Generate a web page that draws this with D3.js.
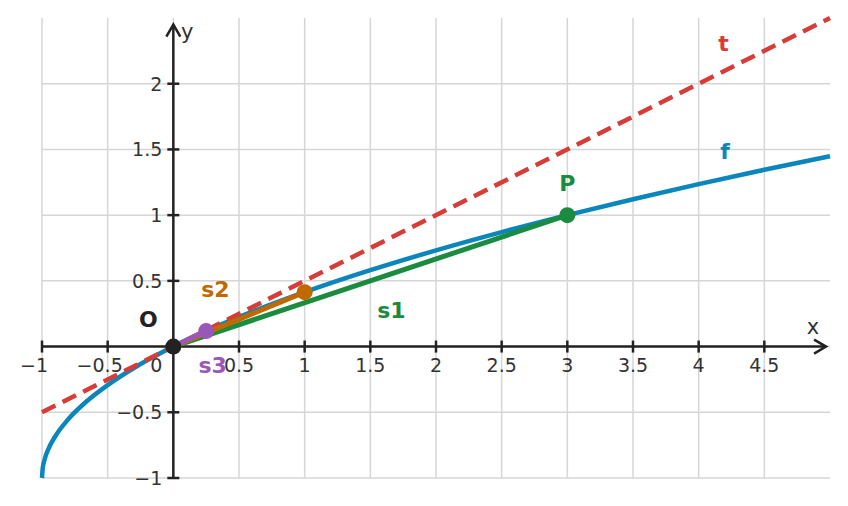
<!DOCTYPE html>
<html>
<head>
<meta charset="utf-8">
<script src="https://cdn.jsdelivr.net/npm/d3@7"></script>
<style>
  body { margin: 0; background: #fff; }
  svg { display: block; font-family: "DejaVu Sans", sans-serif; }
</style>
</head>
<body>
<div id="chart"></div>
<script>
const fX = [-1, -0.995, -0.98, -0.95, -0.9, -0.8, -0.65, -0.5, -0.3, 0, 0.3, 0.7, 1, 1.5, 2, 2.5, 3, 3.5, 4, 4.5, 5];
const fY = [-1, -0.929, -0.859, -0.776, -0.684, -0.553, -0.408, -0.293, -0.163, 0, 0.140, 0.304, 0.414, 0.581, 0.732, 0.871, 1, 1.121, 1.236, 1.345, 1.449];

// tangent t
const tX = [-1, 5];
const tY = [-0.5, 2.5];

// secants from origin: end points
const secNames = ['s1', 's2', 's3'];
const secEndX = [3, 1, 0.25];
const secEndY = [1, 0.414, 0.118];

const xTicks = [-1, -0.5, 0, 0.5, 1, 1.5, 2, 2.5, 3, 3.5, 4, 4.5];
const yTicks = [-1, -0.5, 0.5, 1, 1.5, 2];

const [width, height] = [848, 506];
const x = d3.scaleLinear().domain([-1, 5]).range([42, 830]);
const y = d3.scaleLinear().domain([-1, 2.5]).range([478, 18]);

const ink = '#222';
const colors = { f: '#0a86bd', t: '#d63c38', s1: '#1a8b3f', s2: '#bf6a00', s3: '#9a57b8' };

const svg = d3.select('#chart').append('svg')
    .attr('width', width)
    .attr('height', height);

// grid
const grid = svg.append('g').attr('stroke', '#d6d6d6').attr('stroke-width', 1.5);
grid.selectAll('line.v').data(xTicks).enter().append('line')
    .attr('x1', d => x(d)).attr('x2', d => x(d))
    .attr('y1', y(2.5)).attr('y2', y(-1));
grid.selectAll('line.h').data([-1, -0.5, 0, 0.5, 1, 1.5, 2]).enter().append('line')
    .attr('x1', x(-1)).attr('x2', x(5))
    .attr('y1', d => y(d)).attr('y2', d => y(d));

// axes
const axes = svg.append('g').attr('stroke', ink).attr('stroke-width', 2.5).attr('fill', 'none');
axes.append('line').attr('x1', x(-1)).attr('x2', x(4.97)).attr('y1', y(0)).attr('y2', y(0));
axes.append('line').attr('x1', x(0)).attr('x2', x(0)).attr('y1', y(-1)).attr('y2', y(2.45));
axes.append('path')
    .attr('d', `M${x(4.97) - 12},${y(0) - 7}L${x(4.97)},${y(0)}L${x(4.97) - 12},${y(0) + 7}`);
axes.append('path')
    .attr('d', `M${x(0) - 7},${y(2.45) + 12}L${x(0)},${y(2.45)}L${x(0) + 7},${y(2.45) + 12}`);

// ticks
axes.selectAll('line.xt').data(xTicks.filter(d => d !== 0)).enter().append('line')
    .attr('x1', d => x(d)).attr('x2', d => x(d))
    .attr('y1', y(0) - 6).attr('y2', y(0) + 6);
axes.selectAll('line.yt').data(yTicks).enter().append('line')
    .attr('x1', x(0) - 6).attr('x2', x(0) + 6)
    .attr('y1', d => y(d)).attr('y2', d => y(d));

const fmt = d => (d < 0 ? '\u2212' : '') + Math.abs(d);
const labels = svg.append('g').attr('fill', '#333').attr('font-size', 19);
labels.selectAll('text.xl').data(xTicks).enter().append('text')
    .attr('x', d => d === 0 ? x(0) - 17 : x(d) + (d < 0 ? -8 : 0))
    .attr('y', y(0) + 25)
    .attr('text-anchor', 'middle')
    .text(fmt);
labels.selectAll('text.yl').data(yTicks).enter().append('text')
    .attr('x', x(0) - 11)
    .attr('y', d => y(d) + 7)
    .attr('text-anchor', 'end')
    .text(fmt);

svg.append('text').attr('x', x(4.87)).attr('y', y(0) - 13)
    .attr('font-size', 21).attr('fill', '#333').attr('text-anchor', 'middle').text('x');
svg.append('text').attr('x', x(0) + 14).attr('y', y(2.34))
    .attr('font-size', 21).attr('fill', '#333').attr('text-anchor', 'middle').text('y');

// curves
const line = d3.line().x(d => x(d[0])).y(d => y(d[1]));
svg.append('path')
    .attr('d', line.curve(d3.curveMonotoneX)(fX.map((v, i) => [v, fY[i]])))
    .attr('fill', 'none').attr('stroke', colors.f).attr('stroke-width', 4.5);

svg.append('path')
    .attr('d', line.curve(d3.curveLinear)(tX.map((v, i) => [v, tY[i]])))
    .attr('fill', 'none').attr('stroke', colors.t).attr('stroke-width', 4.5)
    .attr('stroke-dasharray', '15,8');

secNames.forEach((name, i) => {
    svg.append('path')
        .attr('d', line([[0, 0], [secEndX[i], secEndY[i]]]))
        .attr('fill', 'none').attr('stroke', colors[name]).attr('stroke-width', 5);
});

// points
secNames.forEach((name, i) => {
    svg.append('circle')
        .attr('cx', x(secEndX[i])).attr('cy', y(secEndY[i])).attr('r', 8)
        .attr('fill', colors[name]);
});
svg.append('circle').attr('cx', x(0)).attr('cy', y(0)).attr('r', 8).attr('fill', ink);

// labels
const tags = [
    { text: 't', lx: 4.19, ly: 2.3, c: colors.t },
    { text: 'f', lx: 4.2, ly: 1.48, c: colors.f },
    { text: 'P', lx: 3.0, ly: 1.24, c: colors.s1 },
    { text: 's1', lx: 1.66, ly: 0.27, c: colors.s1 },
    { text: 's2', lx: 0.32, ly: 0.43, c: colors.s2 },
    { text: 's3', lx: 0.3, ly: -0.15, c: colors.s3 },
    { text: 'O', lx: -0.19, ly: 0.2, c: ink }
];
svg.append('g').selectAll('text').data(tags).enter().append('text')
    .attr('x', d => x(d.lx)).attr('y', d => y(d.ly) + 7)
    .attr('text-anchor', 'middle')
    .attr('font-size', 22).attr('font-weight', 'bold')
    .attr('fill', d => d.c)
    .text(d => d.text);
</script>
</body>
</html>
